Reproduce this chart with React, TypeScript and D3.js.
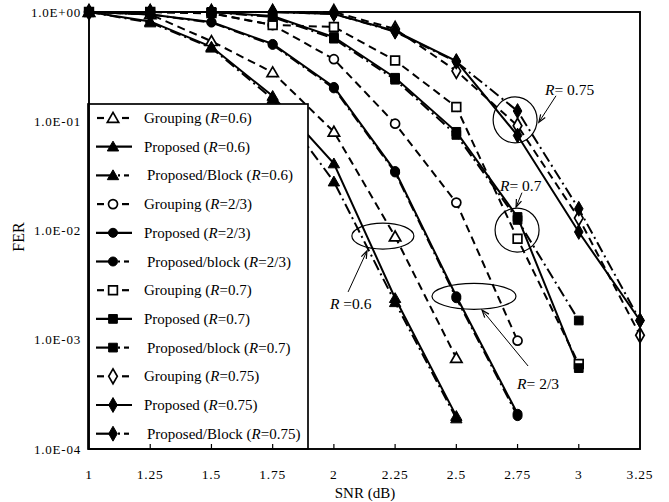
import React from "react";
import * as d3 from "d3";

// SNR points (dB)
const snr = [1, 1.25, 1.5, 1.75, 2, 2.25, 2.5, 2.75, 3, 3.25];

// FER values
const groupingR06 = [1, 0.95, 0.54, 0.28, 0.08, 0.0088, 0.00068];
const proposedR06 = [1, 0.82, 0.48, 0.17, 0.041, 0.0024, 0.0002];
const blockR06 = [1, 0.8, 0.47, 0.16, 0.028, 0.0022, 0.00019];

const groupingR23 = [1, 1, 0.97, 0.76, 0.37, 0.095, 0.018, 0.00098];
const proposedR23 = [1, 0.95, 0.81, 0.51, 0.206, 0.035, 0.0025, 0.00021];
const blockR23 = [1, 0.95, 0.8, 0.5, 0.2, 0.034, 0.0024, 0.0002];

const groupingR07 = [1, 1, 0.98, 0.76, 0.73, 0.36, 0.135, 0.0084, 0.0006];
const proposedR07 = [1, 1, 1, 0.92, 0.59, 0.25, 0.08, 0.0133, 0.00055];
const blockR07 = [1, 1, 1, 0.9, 0.57, 0.24, 0.075, 0.0125, 0.0015];

const groupingR075 = [1, 1, 1, 1, 1, 0.7, 0.289, 0.091, 0.013, 0.0011];
const proposedR075 = [1, 1, 1, 1, 0.96, 0.67, 0.356, 0.074, 0.0097, 0.0015];
const blockR075 = [1, 1, 1, 1, 0.96, 0.66, 0.35, 0.124, 0.0158, 0.0015];

const yTicks = [1, 1e-1, 1e-2, 1e-3, 1e-4];
const yTickLabels = ["1.0E+00", "1.0E-01", "1.0E-02", "1.0E-03", "1.0E-04"];
const xTickLabels = ["1", "1.25", "1.5", "1.75", "2", "2.25", "2.5", "2.75", "3", "3.25"];

type Kind = "grouping" | "proposed" | "block";
type Shape = "triangle" | "circle" | "square" | "diamond";

const series: { name: string; rate: string; kind: Kind; shape: Shape; values: number[] }[] = [
  { name: "Grouping", rate: "0.6", kind: "grouping", shape: "triangle", values: groupingR06 },
  { name: "Proposed", rate: "0.6", kind: "proposed", shape: "triangle", values: proposedR06 },
  { name: "Proposed/Block", rate: "0.6", kind: "block", shape: "triangle", values: blockR06 },
  { name: "Grouping", rate: "2/3", kind: "grouping", shape: "circle", values: groupingR23 },
  { name: "Proposed", rate: "2/3", kind: "proposed", shape: "circle", values: proposedR23 },
  { name: "Proposed/block", rate: "2/3", kind: "block", shape: "circle", values: blockR23 },
  { name: "Grouping", rate: "0.7", kind: "grouping", shape: "square", values: groupingR07 },
  { name: "Proposed", rate: "0.7", kind: "proposed", shape: "square", values: proposedR07 },
  { name: "Proposed/block", rate: "0.7", kind: "block", shape: "square", values: blockR07 },
  { name: "Grouping", rate: "0.75", kind: "grouping", shape: "diamond", values: groupingR075 },
  { name: "Proposed", rate: "0.75", kind: "proposed", shape: "diamond", values: proposedR075 },
  { name: "Proposed/Block", rate: "0.75", kind: "block", shape: "diamond", values: blockR075 },
];

// annotation ellipses / labels, in data units
const ellipses = [
  { x: 2.2, y: 0.0089, rx: 31, ry: 13 },
  { x: 2.572, y: 0.0025, rx: 42, ry: 13 },
  { x: 2.748, y: 0.0101, rx: 22, ry: 22 },
  { x: 2.74, y: 0.103, rx: 22, ry: 23 },
];
const notes = [
  { rate: "=0.6", gap: " ", x: 1.984, y: 0.0019, from: [2.058, 0.00274], to: [2.135, 0.0065] },
  { rate: " 2/3", gap: "=", x: 2.748, y: 0.000355, from: [2.793, 0.000575], to: [2.605, 0.00187] },
  { rate: " 0.7", gap: "=", x: 2.678, y: 0.023, from: [2.768, 0.0222], to: [2.744, 0.0164] },
  { rate: " 0.75", gap: "=", x: 2.862, y: 0.174, from: [2.907, 0.171], to: [2.837, 0.098] },
];

const W = 669;
const H = 502;
const FONT = "'Liberation Serif', 'Times New Roman', serif";

const x = d3.scaleLinear().domain([1, 3.25]).range([89, 640]);
const y = d3.scaleLog().domain([1e-4, 1]).range([449, 12]);

const symbolType = {
  triangle: d3.symbolTriangle,
  circle: d3.symbolCircle,
  square: d3.symbolSquare,
  diamond: d3.symbolDiamond,
};
const symbolSize = { triangle: 56, circle: 64, square: 76, diamond: 64 };

function dashFor(kind: Kind) {
  if (kind === "grouping") return "8,5";
  if (kind === "block") return "11,4,2,4";
  return undefined;
}

function Marker({ shape, open, cx, cy }: { shape: Shape; open: boolean; cx: number; cy: number }) {
  const d = d3.symbol().type(symbolType[shape]).size(symbolSize[shape])() as string;
  const t = shape === "triangle" ? `translate(${cx},${cy + 1})` : `translate(${cx},${cy})`;
  return (
    <path
      d={d}
      transform={t}
      fill={open ? "#fff" : "#000"}
      stroke="#000"
      strokeWidth={open ? 1.7 : 1}
    />
  );
}

export default function App() {
  const line = d3
    .line<number>()
    .x((_, i) => x(snr[i]))
    .y((d) => y(d));

  const legendTop = 118;
  const legendStep = 28.7;

  return (
    <svg width={W} height={H} style={{ position: "absolute", left: 0, top: 0 }} fontFamily={FONT}>
      <rect width={W} height={H} fill="#fff" />

      {/* series lines */}
      {series.map((s, i) => (
        <path
          key={"l" + i}
          d={line(s.values) as string}
          fill="none"
          stroke="#000"
          strokeWidth={2}
          strokeDasharray={dashFor(s.kind)}
        />
      ))}
      {/* series markers */}
      {series.map((s, i) =>
        s.values.map((v, j) => (
          <Marker
            key={"m" + i + "_" + j}
            shape={s.shape}
            open={s.kind === "grouping"}
            cx={x(snr[j])}
            cy={y(v)}
          />
        ))
      )}

      {/* annotations */}
      {ellipses.map((e, i) => (
        <ellipse key={"e" + i} cx={x(e.x)} cy={y(e.y)} rx={e.rx} ry={e.ry} fill="none" stroke="#000" strokeWidth={1.2} />
      ))}
      {notes.map((n, i) => {
        const x1 = x(n.from[0]);
        const y1 = y(n.from[1]);
        const x2 = x(n.to[0]);
        const y2 = y(n.to[1]);
        const ang = Math.atan2(y2 - y1, x2 - x1);
        const a1 = ang + Math.PI - 0.35;
        const a2 = ang + Math.PI + 0.35;
        return (
          <g key={"n" + i}>
            <line x1={x1} y1={y1} x2={x2} y2={y2} stroke="#000" strokeWidth={1} />
            <path
              d={`M${x2 + 8 * Math.cos(a1)},${y2 + 8 * Math.sin(a1)}L${x2},${y2}L${x2 + 8 * Math.cos(a2)},${y2 + 8 * Math.sin(a2)}`}
              fill="none"
              stroke="#000"
              strokeWidth={1.2}
            />
            <text x={x(n.x)} y={y(n.y)} fontSize={15.5}>
              <tspan fontStyle="italic">R</tspan>
              {n.gap + n.rate}
            </text>
          </g>
        );
      })}

      {/* legend */}
      <rect x={88} y={104} width={220} height={345} fill="#fff" stroke="#000" strokeWidth={1.7} />
      {series.map((s, i) => {
        const cy = legendTop + i * legendStep;
        const open = s.kind === "grouping";
        return (
          <g key={"lg" + i}>
            {s.kind === "grouping" && (
              <>
                <line x1={97} x2={104} y1={cy} y2={cy} stroke="#000" strokeWidth={2.2} />
                <line x1={122} x2={129} y1={cy} y2={cy} stroke="#000" strokeWidth={2.2} />
              </>
            )}
            {s.kind === "proposed" && <line x1={96} x2={132} y1={cy} y2={cy} stroke="#000" strokeWidth={2.2} />}
            {s.kind === "block" && (
              <>
                <line x1={96} x2={114} y1={cy} y2={cy} stroke="#000" strokeWidth={2.2} />
                <line x1={118} x2={120} y1={cy} y2={cy} stroke="#000" strokeWidth={2.2} />
                <line x1={124} x2={129} y1={cy} y2={cy} stroke="#000" strokeWidth={2.2} />
              </>
            )}
            <Marker shape={s.shape} open={open} cx={113} cy={cy} />
            <text x={s.kind === "block" ? 147 : 144} y={cy + 5} fontSize={15}>
              {s.name + " ("}
              <tspan fontStyle="italic">R</tspan>
              {"=" + s.rate + ")"}
            </text>
          </g>
        );
      })}

      {/* frame */}
      <rect x={89} y={12} width={551} height={437} fill="none" stroke="#000" strokeWidth={1.9} />
      {snr.slice(1, -1).map((v, i) => (
        <line key={"xt" + i} x1={x(v)} x2={x(v)} y1={449} y2={444} stroke="#000" strokeWidth={1.2} />
      ))}

      {/* axis labels */}
      {yTicks.map((t, i) => (
        <text key={"yl" + i} x={81} y={y(t) + 4.5} textAnchor="end" fontSize={13} letterSpacing={0.8}>
          {yTickLabels[i]}
        </text>
      ))}
      {snr.map((v, i) => (
        <text key={"xl" + i} x={x(v)} y={479} textAnchor="middle" fontSize={13.5} letterSpacing={0.8}>
          {xTickLabels[i]}
        </text>
      ))}
      <text x={365} y={498} textAnchor="middle" fontSize={15}>
        SNR (dB)
      </text>
      <text transform="translate(24,237) rotate(-90)" textAnchor="middle" fontSize={16}>
        FER
      </text>
    </svg>
  );
}
